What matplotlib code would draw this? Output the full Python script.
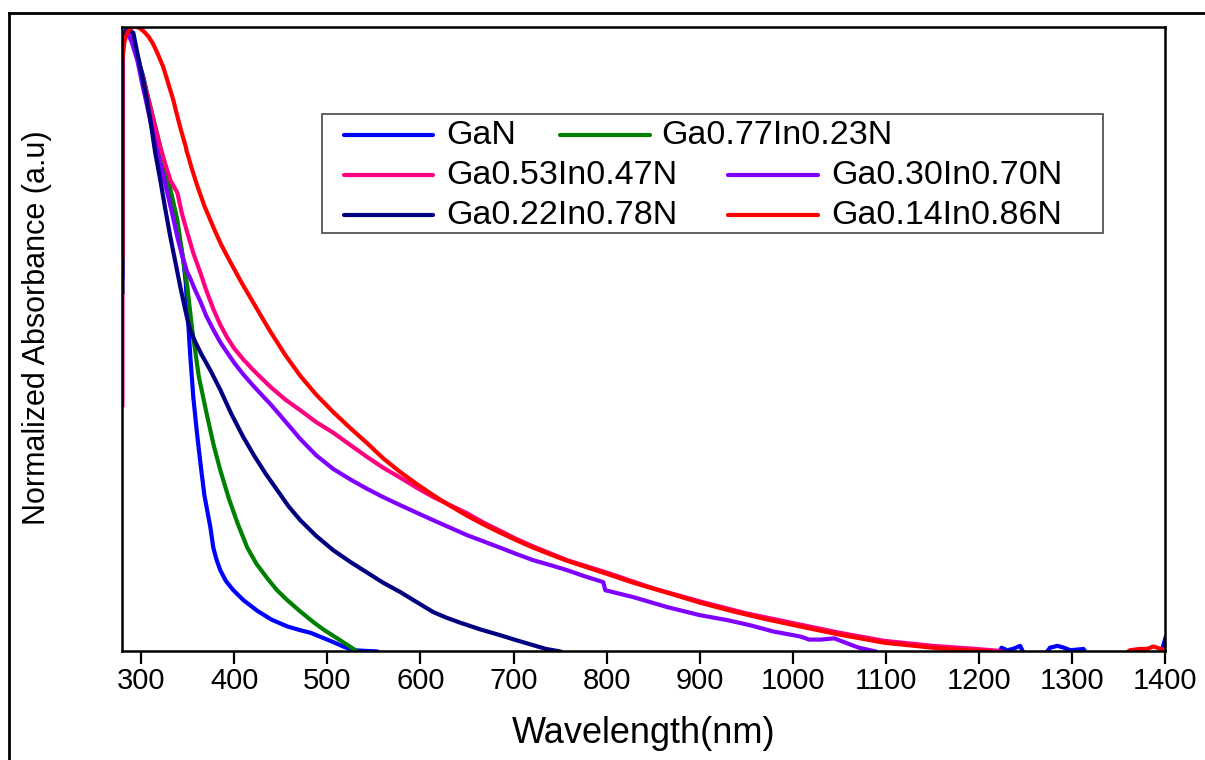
import matplotlib
matplotlib.use('Agg')
import matplotlib.pyplot as plt
from matplotlib.lines import Line2D
from matplotlib.patches import Rectangle

plt.rcParams['font.family'] = ['Liberation Sans', 'DejaVu Sans']

# data (wavelength nm, normalized absorbance)
wl_gan = [280, 280, 284, 288.5, 295, 302.5, 308, 313.2, 318, 323.9, 329, 334.7, 340, 345.4, 348, 350,
          353, 356.1, 360, 363.7, 368, 374.4, 377.6, 381, 385.1, 391, 399.1, 410, 424.9, 440, 457.1,
          471, 481.8, 495, 506.4, 517, 527.9, 553.7, 565,
          1218, 1224, 1230, 1236, 1244, 1250, 1268, 1276, 1284, 1291, 1298, 1305, 1312, 1318,
          1325, 1394, 1400]
abs_gan = [0.60, 0.97, 0.995, 0.99, 0.955, 0.919, 0.88, 0.846, 0.816, 0.786, 0.75, 0.711, 0.67, 0.626,
           0.59, 0.54, 0.47, 0.407, 0.35, 0.302, 0.25, 0.199, 0.166, 0.147, 0.130, 0.113, 0.098, 0.082,
           0.065, 0.051, 0.040, 0.034, 0.030, 0.022, 0.015, 0.008, 0.002, 0.0, -0.01,
           -0.01, 0.006, 0.002, 0.004, 0.009, -0.01, -0.01, 0.006, 0.009, 0.006, 0.002, 0.003, 0.004,
           -0.01, -0.01, -0.01, 0.022]

wl_g77 = [280, 280, 285, 292, 302, 312, 320.7, 330, 339, 344, 349.7, 355, 362, 371.2, 378, 385.1, 394,
          403.4, 414.1, 424, 435.6, 446, 457.1, 471, 485, 495, 506.4, 520, 532.2, 540]
abs_g77 = [0.62, 0.97, 0.995, 0.975, 0.92, 0.86, 0.807, 0.75, 0.690, 0.64, 0.583, 0.514, 0.44, 0.375,
           0.33, 0.290, 0.246, 0.206, 0.166, 0.140, 0.117, 0.098, 0.082, 0.064, 0.047, 0.036, 0.025,
           0.012, 0.0, -0.01]

wl_g53 = [280, 280, 283, 287, 292, 299, 305, 310, 315, 320.7, 326, 331.5, 336, 339, 344, 349.7, 356,
          363.7, 370, 377.6, 385, 392.6, 400, 410, 420, 428.1, 440, 455, 471, 488, 506.4, 525, 543, 560,
          578.4, 596, 613.8, 632, 650.3, 668, 685.7, 703, 721.2, 757.7, 800.6, 850, 900.4, 950, 1007.8,
          1050, 1098, 1150, 1188, 1222, 1240]
abs_g53 = [0.394, 0.97, 0.99, 0.995, 0.975, 0.935, 0.90, 0.871, 0.84, 0.807, 0.78, 0.754, 0.742, 0.734,
           0.70, 0.670, 0.638, 0.606, 0.578, 0.548, 0.523, 0.502, 0.485, 0.467, 0.451, 0.439, 0.422,
           0.403, 0.386, 0.367, 0.350, 0.330, 0.311, 0.294, 0.278, 0.262, 0.247, 0.234, 0.221, 0.206,
           0.193, 0.180, 0.168, 0.146, 0.126, 0.101, 0.080, 0.061, 0.043, 0.030, 0.017, 0.009, 0.005,
           0.001, -0.01]

wl_g30 = [280, 280, 283, 285.5, 290, 296, 301, 306.8, 312, 317.5, 323, 328.2, 334, 339, 344, 347, 349.7,
          352, 357, 363.7, 370, 377.6, 385, 392.6, 400, 410, 420, 428.1, 440, 455, 471, 488, 506.4, 525,
          543, 560, 578.4, 596, 613.8, 632, 650.3, 668, 685.7, 703, 721.2, 740, 757.7, 777, 796.3, 798.5,
          828.5, 865, 900.4, 930, 954, 978.8, 1007.8, 1017.5, 1030, 1044.3, 1060, 1071, 1089, 1095]
abs_g30 = [0.85, 0.97, 0.986, 0.99, 0.975, 0.946, 0.91, 0.871, 0.835, 0.798, 0.765, 0.734, 0.697, 0.663,
           0.634, 0.620, 0.606, 0.600, 0.582, 0.560, 0.537, 0.515, 0.495, 0.478, 0.462, 0.443, 0.426,
           0.413, 0.394, 0.368, 0.340, 0.314, 0.292, 0.275, 0.260, 0.247, 0.234, 0.222, 0.210, 0.198,
           0.186, 0.176, 0.166, 0.156, 0.146, 0.138, 0.130, 0.120, 0.111, 0.098, 0.087, 0.071, 0.058,
           0.050, 0.042, 0.032, 0.024, 0.019, 0.019, 0.021, 0.012, 0.006, 0.0, -0.01]

wl_g22 = [280, 280, 283, 286, 291.7, 295, 299.2, 305, 310, 315, 320.7, 326, 331.5, 337, 342.2, 347, 350,
          352.9, 358, 365, 374.4, 385, 397, 409.8, 422, 434, 446.3, 458, 471, 488, 506.4, 525, 543, 560,
          578.4, 596, 613.8, 628, 642.8, 665, 685.7, 703, 721.2, 735, 750.2, 760]
abs_g22 = [0.575, 0.97, 0.99, 0.995, 0.99, 0.965, 0.935, 0.893, 0.850, 0.80, 0.754, 0.708, 0.663, 0.622,
           0.583, 0.55, 0.53, 0.514, 0.496, 0.475, 0.450, 0.419, 0.380, 0.343, 0.312, 0.284, 0.258,
           0.233, 0.210, 0.185, 0.162, 0.143, 0.126, 0.110, 0.095, 0.079, 0.063, 0.054, 0.046, 0.035,
           0.026, 0.018, 0.010, 0.004, 0.0, -0.01]

wl_g14 = [280, 280, 282, 285, 289, 294, 299, 303, 308, 313, 318, 323.9, 329, 334.7, 338, 342.2, 346, 348,
          349, 350, 354, 360.4, 368, 377.6, 386, 395.9, 408, 420.6, 430, 438.8, 455, 471, 488, 506.4,
          525, 543, 560, 578.4, 596, 613.8, 632, 650.3, 668, 685.7, 703, 721.2, 740, 757.7, 780, 800.6,
          828.5, 865, 900.4, 935.9, 970, 1007.8, 1050, 1098, 1150, 1188, 1211, 1225, 1350, 1362, 1372,
          1380, 1387, 1393, 1400]
abs_g14 = [0.634, 0.946, 0.975, 0.99, 0.998, 1.0, 0.997, 0.992, 0.984, 0.972, 0.956, 0.935, 0.910, 0.882,
           0.862, 0.838, 0.818, 0.808, 0.800, 0.796, 0.775, 0.745, 0.713, 0.679, 0.651, 0.623, 0.590,
           0.558, 0.534, 0.512, 0.474, 0.441, 0.411, 0.383, 0.357, 0.333, 0.309, 0.287, 0.268, 0.250,
           0.233, 0.217, 0.203, 0.190, 0.178, 0.166, 0.155, 0.145, 0.134, 0.124, 0.110, 0.094, 0.078,
           0.064, 0.052, 0.040, 0.027, 0.014, 0.006, 0.002, 0.0, -0.01, -0.01, 0.002, 0.004, 0.004,
           0.008, 0.005, 0.002]

labels = ['GaN', 'Ga0.77In0.23N', 'Ga0.53In0.47N', 'Ga0.30In0.70N', 'Ga0.22In0.78N', 'Ga0.14In0.86N']
colors = ['#0000FF', '#008000', '#FF0080', '#8000FF', '#000080', '#FF0000']
xticks = [300, 400, 500, 600, 700, 800, 900, 1000, 1100, 1200, 1300, 1400]


def main():
    fig = plt.figure(figsize=(12.05, 7.6), dpi=100)
    ax = fig.add_axes([0.1016, 0.1428, 0.8656, 0.8223])

    series = [(wl_gan, abs_gan), (wl_g77, abs_g77), (wl_g53, abs_g53),
              (wl_g30, abs_g30), (wl_g22, abs_g22), (wl_g14, abs_g14)]
    for (x, y), c, lab in zip(series, colors, labels):
        ax.plot(x, y, color=c, lw=3.0, label=lab, solid_joinstyle='round')

    ax.set_xlim(280, 1400)
    ax.set_ylim(0, 1.0)
    ax.set_xticks(xticks)
    ax.set_yticks([])
    ax.tick_params(axis='x', direction='out', length=9, width=1.6, labelsize=21, pad=2)
    for s in ax.spines.values():
        s.set_linewidth(1.8)
        s.set_zorder(5)

    ax.set_xlabel('Wavelength(nm)', fontsize=26, va='center')
    ax.xaxis.set_label_coords(0.5, -0.132)
    ax.set_ylabel('Normalized Absorbance (a.u)', fontsize=22, va='center')
    ax.yaxis.set_label_coords(-0.0819, 0.5176)

    # legend laid out the way the original flows its entries
    ax.add_patch(Rectangle((0.1913, 0.6696), 0.7487, 0.1904, transform=ax.transAxes,
                           fill=False, edgecolor='#555555', lw=1.3, zorder=6))
    rows = [0.8264, 0.7624, 0.6984]
    slots = [(0.2125, 0.2978, 0.3102, rows[0]), (0.4195, 0.5058, 0.5163, rows[0]),
             (0.2125, 0.2978, 0.3102, rows[1]), (0.5807, 0.6670, 0.6795, rows[1]),
             (0.2125, 0.2978, 0.3102, rows[2]), (0.5807, 0.6670, 0.6795, rows[2])]
    for (x0, x1, xt, yr), c, lab in zip(slots, colors, labels):
        ax.add_line(Line2D([x0, x1], [yr, yr], color=c, lw=3, transform=ax.transAxes,
                           solid_capstyle='round', zorder=7))
        ax.text(xt, yr, lab, transform=ax.transAxes, fontsize=24.5, va='center', ha='left', zorder=7)

    # outer frame of the figure panel
    fig.add_artist(Line2D([9 / 1205, 9 / 1205], [0, 1 - 13 / 760], color='black', lw=2,
                          transform=fig.transFigure))
    fig.add_artist(Line2D([9 / 1205, 1], [1 - 13 / 760, 1 - 13 / 760], color='black', lw=2,
                          transform=fig.transFigure))

    fig.savefig('out.png', dpi=100, facecolor='white')


if __name__ == '__main__':
    main()
